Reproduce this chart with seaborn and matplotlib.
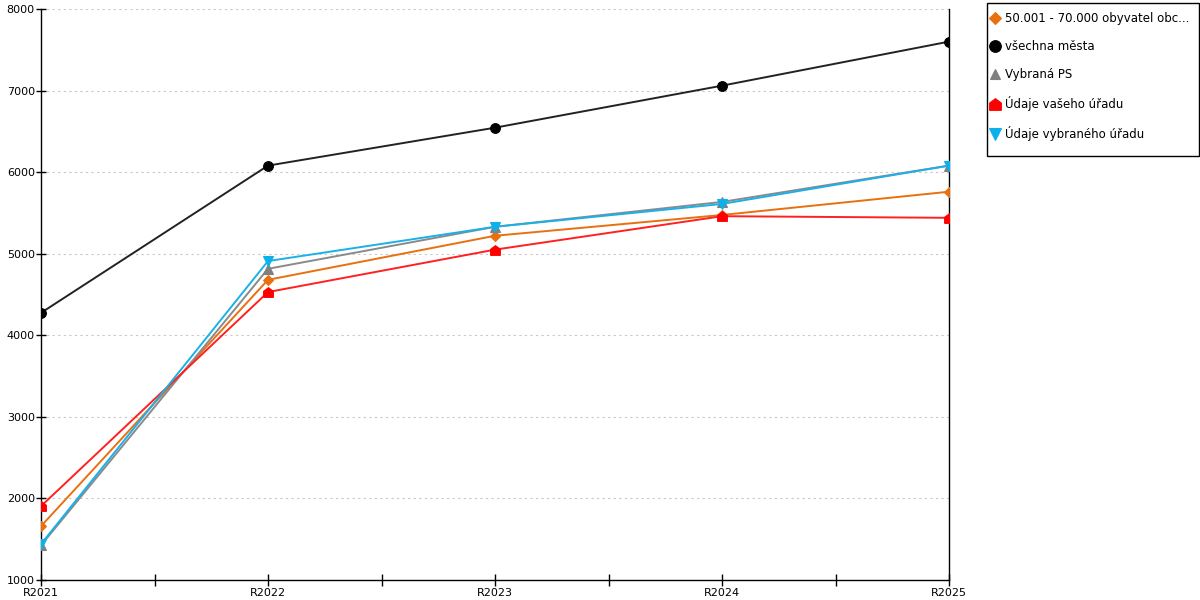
import matplotlib
matplotlib.use("Agg")
import matplotlib.pyplot as plt
import seaborn as sns
import pandas as pd
import numpy as np
from matplotlib.ticker import MultipleLocator, FixedLocator
from matplotlib.patches import Rectangle

categories = ["R2021", "R2022", "R2023", "R2024", "R2025"]
orange_vals = [1660, 4680, 5220, 5475, 5760]
black_vals = [4275, 6080, 6545, 7060, 7600]
gray_vals = [1425, 4815, 5330, 5635, 6080]
red_vals = [1905, 4530, 5050, 5460, 5440]
blue_vals = [1440, 4910, 5330, 5610, 6080]

series_names = ["50.001 - 70.000 obyvatel obc...", "všechna města", "Vybraná PS",
                "Údaje vašeho úřadu", "Údaje vybraného úřadu"]
series_vals = [orange_vals, black_vals, gray_vals, red_vals, blue_vals]
colors = ["#E8700F", "#000000", "#808080", "#FF0000", "#0EB0EC"]
house = [(-1, -1), (1, -1), (1, 0.25), (0, 1), (-1, 0.25), (-1, -1)]
markers = ["D", "o", "^", house, "v"]
msizes = [5.5, 7, 6.5, 7, 7]
lcolors = ["#E8700F", "#222222", "#8A8A8A", "#FF2020", "#1AB0E8"]

rows = []
for name, vals in zip(series_names, series_vals):
    for c, v in zip(categories, vals):
        rows.append({"cat": c, "value": v, "series": name})
df = pd.DataFrame(rows)

sns.set_theme(style="white")
plt.rcParams["font.family"] = ["DejaVu Sans"]
plt.rcParams["text.color"] = "black"

fig = plt.figure(figsize=(12, 6), dpi=100)
ax = fig.add_axes([41 / 1200, 1 - 580 / 600, (949 - 41) / 1200, (580 - 9) / 600])

for i, name in enumerate(series_names):
    sub = df[df["series"] == name]
    sns.lineplot(data=sub, x="cat", y="value", ax=ax, color=lcolors[i],
                 marker=markers[i], markersize=msizes[i], markerfacecolor=colors[i],
                 markeredgecolor=colors[i], markeredgewidth=0.8, linewidth=1.4,
                 label=name, zorder=3 + i, sort=False)

ax.set_xlim(0, 4)
ax.set_ylim(1000, 8000)
ax.yaxis.set_major_locator(MultipleLocator(1000))
ax.set_xticks(range(5))
ax.set_xticklabels(categories)
ax.xaxis.set_minor_locator(FixedLocator([0.5, 1.5, 2.5, 3.5]))
ax.set_xlabel("")
ax.set_ylabel("")

ax.grid(axis="y", color="#C8C8C8", linestyle=(0, (2, 3)), linewidth=0.8)
ax.grid(axis="x", visible=False)
ax.set_axisbelow(True)

for s in ["left", "bottom", "right"]:
    ax.spines[s].set_visible(True)
    ax.spines[s].set_color("black")
    ax.spines[s].set_linewidth(1.0)
ax.spines["top"].set_visible(False)

ax.tick_params(axis="both", which="both", direction="inout", color="black",
               labelsize=8, labelcolor="black")
ax.tick_params(axis="x", which="major", length=8, width=1, pad=2, bottom=True)
ax.tick_params(axis="x", which="minor", length=8, width=1, bottom=True)
ax.tick_params(axis="y", which="major", length=7, width=1, pad=1, left=True)

leg = ax.legend(loc="upper left", bbox_to_anchor=(990 / 1200, 1 - 12 / 600),
                bbox_transform=fig.transFigure, frameon=False,
                fontsize=8.5, labelspacing=1.28, markerscale=1.2,
                handlelength=0.8, handletextpad=0.45, borderpad=0,
                borderaxespad=0)
for t in leg.get_texts():
    t.set_color("black")
for h in leg.get_lines():
    h.set_linestyle("none")

fig.patches.append(Rectangle((986.5 / 1200, (600 - 155.5) / 600), 212 / 1200, 153 / 600,
                             transform=fig.transFigure, fill=False,
                             edgecolor="black", linewidth=1.0))

fig.savefig("out.png", dpi=100)
